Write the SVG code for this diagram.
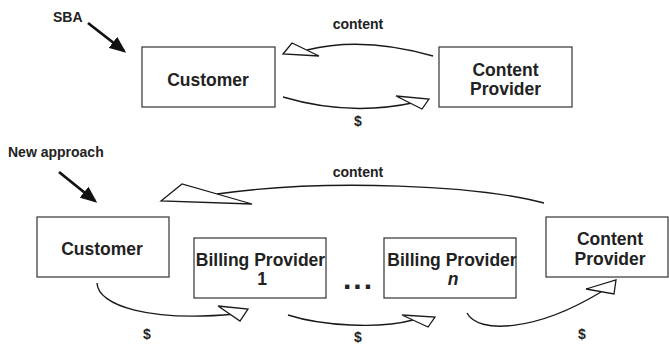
<svg xmlns="http://www.w3.org/2000/svg" width="669" height="345" viewBox="0 0 669 345">
<style>
  .box { fill: #fff; stroke: #333; stroke-width: 1.2; }
  .nt { font-family: "Liberation Sans", Arial, sans-serif; font-weight: bold; font-size: 17.5px; fill: #222; text-anchor: middle; }
  .lb { font-family: "Liberation Sans", Arial, sans-serif; font-weight: bold; font-size: 14px; fill: #222; text-anchor: middle; }
  .lbl { font-family: "Liberation Sans", Arial, sans-serif; font-weight: bold; font-size: 14px; fill: #222; }
  .cn { fill: none; stroke: #1a1a1a; stroke-width: 1.4; }
  .ah { fill: #fff; stroke: #1a1a1a; stroke-width: 1.3; stroke-linejoin: miter; }
  .ptr { stroke: #111; stroke-width: 2.8; fill: none; }
</style>
<defs>
  <marker id="blk" markerWidth="6" markerHeight="5" refX="5" refY="2.5" orient="auto" markerUnits="strokeWidth">
    <path d="M0,0 L6,2.5 L0,5 Z" fill="#111"/>
  </marker>
</defs>

<g id="labels">
  <text class="lbl" x="53" y="22">SBA</text>
  <text class="lbl" x="8" y="157">New approach</text>
  <line class="ptr" x1="88" y1="23" x2="124" y2="51" marker-end="url(#blk)"/>
  <line class="ptr" x1="59" y1="172" x2="95" y2="201" marker-end="url(#blk)"/>
</g>

<g id="sba-customer">
  <rect class="box" x="142" y="47" width="133" height="60"/>
  <text class="nt" x="208" y="86">Customer</text>
</g>
<g id="sba-content-provider">
  <rect class="box" x="439" y="47" width="133" height="60"/>
  <text class="nt" x="505.5" y="76">Content</text>
  <text class="nt" x="505.5" y="95">Provider</text>
</g>

<g id="new-customer">
  <rect class="box" x="37" y="217" width="132" height="60"/>
  <text class="nt" x="102" y="255">Customer</text>
</g>
<g id="billing-provider-1">
  <rect class="box" x="194" y="238" width="132" height="60"/>
  <text class="nt" x="260.5" y="266">Billing Provider</text>
  <text class="nt" x="262" y="285">1</text>
</g>
<g id="billing-provider-n">
  <rect class="box" x="384" y="238" width="132" height="60"/>
  <text class="nt" x="452" y="266">Billing Provider</text>
  <text class="nt" x="453" y="285" font-style="italic">n</text>
</g>
<g id="dots">
  <text class="nt" x="343" y="289" style="text-anchor:start;font-size:30px;letter-spacing:2px">...</text>
</g>
<g id="new-content-provider">
  <rect class="box" x="546" y="217" width="122" height="60"/>
  <text class="nt" x="610" y="245">Content</text>
  <text class="nt" x="610" y="265">Provider</text>
</g>

<g id="connectors">
  <path class="cn" d="M433,56 Q363,36 307,50"/>
  <polygon class="ah" points="283,54 292,43 319,56"/>
  <text class="lb" x="358" y="29">content</text>

  <path class="cn" d="M283,97 Q350,117 417,102"/>
  <polygon class="ah" points="396,96 429,99 422,109"/>
  <text class="lb" x="358" y="126">$</text>

  <path class="cn" d="M544,203 C480,186 330,178 217,194"/>
  <polygon class="ah" points="161,201 182,184 252,204"/>
  <text class="lb" x="358" y="177">content</text>

  <path class="cn" d="M97,283 C98,306 150,322 235,314"/>
  <polygon class="ah" points="218,306 248,309 240,321"/>
  <text class="lb" x="147" y="339">$</text>

  <path class="cn" d="M288,315 C322,326 380,329 413,320"/>
  <polygon class="ah" points="402,315 435,317 428,327"/>
  <text class="lb" x="358" y="342">$</text>

  <path class="cn" d="M467,313 C478,334 535,332 601,292"/>
  <polygon class="ah" points="586,289 616,280 614,294"/>
  <text class="lb" x="582" y="339">$</text>
</g>
</svg>
